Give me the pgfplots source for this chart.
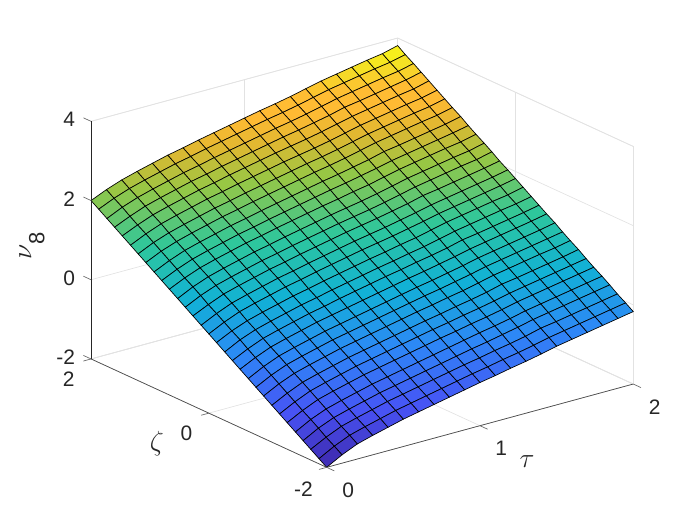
\documentclass[border=0pt]{standalone}
\usepackage{pgfplots}
\pgfplotsset{compat=1.18}
\usepackage{fontspec}
\setmainfont{Liberation Sans}
\definecolor{axdark}{RGB}{38,38,38}
\definecolor{gridl}{RGB}{226,226,226}
\begin{document}
\begin{tikzpicture}[x=1pt,y=1pt]
\path[use as bounding box] (0,0) rectangle (525,393.75);
\begin{axis}[
  at={(156.64pt,143.29pt)}, anchor=origin,
  x={(114.975pt,31.24pt)}, y={(-44.175pt,20.325pt)}, z={(0pt,29.7pt)},
  xmin=0,xmax=2,ymin=-2,ymax=2,zmin=-2,zmax=4,
  xtick={0,1,2}, ytick={-2,0,2}, ztick={-2,0,2,4},
  grid=major, major grid style={draw=gridl,line width=.5pt},
  axis line style={draw=gridl,line width=.5pt},
  tick style={draw=none}, major tick length=6pt, tick align=outside,
  ticklabel style={font=\fontsize{15.7}{16}\selectfont,text=axdark},
  xticklabel style={xshift=4.5pt,yshift=-5pt},
  yticklabel style={xshift=-3.75pt,yshift=-4.5pt},
  zticklabel style={xshift=-3pt,yshift=-2pt},
  /pgf/number format/assume math mode=true,
  clip=false,
  colormap={parula}{
    rgb(0pt)=(0.2422,0.1504,0.6603)
    rgb(143pt)=(0.2810,0.3228,0.9579)
    rgb(286pt)=(0.1786,0.5289,0.9682)
    rgb(429pt)=(0.0689,0.6948,0.8394)
    rgb(571pt)=(0.1800,0.7800,0.6100)
    rgb(714pt)=(0.5900,0.7800,0.2700)
    rgb(800pt)=(0.8800,0.7200,0.1900)
    rgb(860pt)=(1.0000,0.7300,0.2000)
    rgb(905pt)=(1.0000,0.7400,0.2000)
    rgb(950pt)=(0.9600,0.8700,0.1500)
    rgb(1000pt)=(0.9769,0.9839,0.0805)
  },
  xlabel={$\tau$}, ylabel={$\zeta$}, zlabel={\fontsize{20.74}{22}\selectfont$\nu$\raisebox{-9.75pt}{\fontsize{16.5}{17}\selectfont 8}},
  every axis x label/.style={at={(axis cs:0.896,-3.069,-2)},anchor=center,yshift=-2pt,font=\fontsize{20.74}{22}\selectfont,text=axdark},
  every axis y label/.style={at={(axis cs:-0.488,-0.388,-2)},anchor=center,font=\fontsize{20.74}{22}\selectfont,text=axdark},
  every axis z label/.style={at={(axis cs:-0.385,2,1.26)},anchor=center,rotate=90,text=axdark},
]
\addplot3[surf, shader=faceted, faceted color=black, line width=.5pt, mesh/ordering=y varies, mesh/rows=31] coordinates {
(0,-2,-2)(0,-1.87,-1.87)(0,-1.73,-1.73)(0,-1.6,-1.6)(0,-1.47,-1.47)(0,-1.33,-1.33)(0,-1.2,-1.2)(0,-1.07,-1.07)(0,-.93,-.93)(0,-.8,-.8)(0,-.67,-.67)(0,-.53,-.53)(0,-.4,-.4)(0,-.27,-.27)(0,-.13,-.13)(0,0,0)(0,.13,.13)(0,.27,.27)(0,.4,.4)(0,.53,.53)(0,.67,.67)(0,.8,.8)(0,.93,.93)(0,1.07,1.07)(0,1.2,1.2)(0,1.33,1.33)(0,1.47,1.47)(0,1.6,1.6)(0,1.73,1.73)(0,1.87,1.87)(0,2,2)

(.1,-2,-1.79)(.1,-1.87,-1.66)(.1,-1.73,-1.53)(.1,-1.6,-1.39)(.1,-1.47,-1.26)(.1,-1.33,-1.13)(.1,-1.2,-1)(.1,-1.07,-.87)(.1,-.93,-.73)(.1,-.8,-.6)(.1,-.67,-.47)(.1,-.53,-.34)(.1,-.4,-.21)(.1,-.27,-.07)(.1,-.13,.06)(.1,0,.19)(.1,.13,.32)(.1,.27,.45)(.1,.4,.59)(.1,.53,.72)(.1,.67,.85)(.1,.8,.98)(.1,.93,1.11)(.1,1.07,1.25)(.1,1.2,1.38)(.1,1.33,1.51)(.1,1.47,1.64)(.1,1.6,1.77)(.1,1.73,1.91)(.1,1.87,2.04)(.1,2,2.17)

(.2,-2,-1.62)(.2,-1.87,-1.49)(.2,-1.73,-1.36)(.2,-1.6,-1.23)(.2,-1.47,-1.1)(.2,-1.33,-.96)(.2,-1.2,-.83)(.2,-1.07,-.7)(.2,-.93,-.57)(.2,-.8,-.44)(.2,-.67,-.31)(.2,-.53,-.18)(.2,-.4,-.05)(.2,-.27,.08)(.2,-.13,.21)(.2,0,.35)(.2,.13,.48)(.2,.27,.61)(.2,.4,.74)(.2,.53,.87)(.2,.67,1)(.2,.8,1.13)(.2,.93,1.26)(.2,1.07,1.39)(.2,1.2,1.52)(.2,1.33,1.66)(.2,1.47,1.79)(.2,1.6,1.92)(.2,1.73,2.05)(.2,1.87,2.18)(.2,2,2.31)

(.3,-2,-1.51)(.3,-1.87,-1.38)(.3,-1.73,-1.25)(.3,-1.6,-1.12)(.3,-1.47,-.99)(.3,-1.33,-.85)(.3,-1.2,-.72)(.3,-1.07,-.59)(.3,-.93,-.46)(.3,-.8,-.33)(.3,-.67,-.2)(.3,-.53,-.07)(.3,-.4,.06)(.3,-.27,.19)(.3,-.13,.32)(.3,0,.46)(.3,.13,.59)(.3,.27,.72)(.3,.4,.85)(.3,.53,.98)(.3,.67,1.11)(.3,.8,1.24)(.3,.93,1.37)(.3,1.07,1.5)(.3,1.2,1.63)(.3,1.33,1.77)(.3,1.47,1.9)(.3,1.6,2.03)(.3,1.73,2.16)(.3,1.87,2.29)(.3,2,2.42)

(.4,-2,-1.41)(.4,-1.87,-1.28)(.4,-1.73,-1.15)(.4,-1.6,-1.02)(.4,-1.47,-.89)(.4,-1.33,-.75)(.4,-1.2,-.62)(.4,-1.07,-.49)(.4,-.93,-.36)(.4,-.8,-.23)(.4,-.67,-.1)(.4,-.53,.03)(.4,-.4,.16)(.4,-.27,.29)(.4,-.13,.42)(.4,0,.56)(.4,.13,.69)(.4,.27,.82)(.4,.4,.95)(.4,.53,1.08)(.4,.67,1.21)(.4,.8,1.34)(.4,.93,1.47)(.4,1.07,1.6)(.4,1.2,1.73)(.4,1.33,1.87)(.4,1.47,2)(.4,1.6,2.13)(.4,1.73,2.26)(.4,1.87,2.39)(.4,2,2.52)

(.5,-2,-1.31)(.5,-1.87,-1.18)(.5,-1.73,-1.05)(.5,-1.6,-.92)(.5,-1.47,-.79)(.5,-1.33,-.65)(.5,-1.2,-.52)(.5,-1.07,-.39)(.5,-.93,-.26)(.5,-.8,-.13)(.5,-.67,0)(.5,-.53,.13)(.5,-.4,.26)(.5,-.27,.39)(.5,-.13,.52)(.5,0,.66)(.5,.13,.79)(.5,.27,.92)(.5,.4,1.05)(.5,.53,1.18)(.5,.67,1.31)(.5,.8,1.44)(.5,.93,1.57)(.5,1.07,1.7)(.5,1.2,1.83)(.5,1.33,1.97)(.5,1.47,2.1)(.5,1.6,2.23)(.5,1.73,2.36)(.5,1.87,2.49)(.5,2,2.62)

(.6,-2,-1.23)(.6,-1.87,-1.1)(.6,-1.73,-.97)(.6,-1.6,-.84)(.6,-1.47,-.71)(.6,-1.33,-.57)(.6,-1.2,-.44)(.6,-1.07,-.31)(.6,-.93,-.18)(.6,-.8,-.05)(.6,-.67,.08)(.6,-.53,.21)(.6,-.4,.34)(.6,-.27,.47)(.6,-.13,.6)(.6,0,.74)(.6,.13,.87)(.6,.27,1)(.6,.4,1.13)(.6,.53,1.26)(.6,.67,1.39)(.6,.8,1.52)(.6,.93,1.65)(.6,1.07,1.78)(.6,1.2,1.91)(.6,1.33,2.05)(.6,1.47,2.18)(.6,1.6,2.31)(.6,1.73,2.44)(.6,1.87,2.57)(.6,2,2.7)

(.7,-2,-1.15)(.7,-1.87,-1.02)(.7,-1.73,-.89)(.7,-1.6,-.76)(.7,-1.47,-.63)(.7,-1.33,-.49)(.7,-1.2,-.36)(.7,-1.07,-.23)(.7,-.93,-.1)(.7,-.8,.03)(.7,-.67,.16)(.7,-.53,.29)(.7,-.4,.43)(.7,-.27,.56)(.7,-.13,.69)(.7,0,.83)(.7,.13,.96)(.7,.27,1.09)(.7,.4,1.22)(.7,.53,1.35)(.7,.67,1.48)(.7,.8,1.61)(.7,.93,1.74)(.7,1.07,1.87)(.7,1.2,2)(.7,1.33,2.14)(.7,1.47,2.27)(.7,1.6,2.4)(.7,1.73,2.53)(.7,1.87,2.66)(.7,2,2.79)

(.8,-2,-1.07)(.8,-1.87,-.94)(.8,-1.73,-.81)(.8,-1.6,-.68)(.8,-1.47,-.55)(.8,-1.33,-.41)(.8,-1.2,-.28)(.8,-1.07,-.15)(.8,-.93,-.02)(.8,-.8,.11)(.8,-.67,.24)(.8,-.53,.37)(.8,-.4,.51)(.8,-.27,.64)(.8,-.13,.77)(.8,0,.91)(.8,.13,1.04)(.8,.27,1.17)(.8,.4,1.3)(.8,.53,1.43)(.8,.67,1.56)(.8,.8,1.69)(.8,.93,1.82)(.8,1.07,1.95)(.8,1.2,2.08)(.8,1.33,2.22)(.8,1.47,2.35)(.8,1.6,2.48)(.8,1.73,2.61)(.8,1.87,2.74)(.8,2,2.87)

(.9,-2,-.99)(.9,-1.87,-.86)(.9,-1.73,-.73)(.9,-1.6,-.6)(.9,-1.47,-.47)(.9,-1.33,-.33)(.9,-1.2,-.2)(.9,-1.07,-.07)(.9,-.93,.06)(.9,-.8,.19)(.9,-.67,.32)(.9,-.53,.45)(.9,-.4,.59)(.9,-.27,.72)(.9,-.13,.85)(.9,0,.99)(.9,.13,1.12)(.9,.27,1.25)(.9,.4,1.38)(.9,.53,1.51)(.9,.67,1.64)(.9,.8,1.77)(.9,.93,1.9)(.9,1.07,2.03)(.9,1.2,2.16)(.9,1.33,2.3)(.9,1.47,2.43)(.9,1.6,2.56)(.9,1.73,2.69)(.9,1.87,2.82)(.9,2,2.95)

(1,-2,-.91)(1,-1.87,-.78)(1,-1.73,-.65)(1,-1.6,-.52)(1,-1.47,-.39)(1,-1.33,-.25)(1,-1.2,-.12)(1,-1.07,.01)(1,-.93,.14)(1,-.8,.27)(1,-.67,.4)(1,-.53,.53)(1,-.4,.67)(1,-.27,.8)(1,-.13,.93)(1,0,1.07)(1,.13,1.2)(1,.27,1.33)(1,.4,1.46)(1,.53,1.59)(1,.67,1.72)(1,.8,1.85)(1,.93,1.98)(1,1.07,2.11)(1,1.2,2.24)(1,1.33,2.38)(1,1.47,2.51)(1,1.6,2.64)(1,1.73,2.77)(1,1.87,2.9)(1,2,3.03)

(1.1,-2,-.84)(1.1,-1.87,-.71)(1.1,-1.73,-.58)(1.1,-1.6,-.44)(1.1,-1.47,-.31)(1.1,-1.33,-.18)(1.1,-1.2,-.05)(1.1,-1.07,.08)(1.1,-.93,.21)(1.1,-.8,.35)(1.1,-.67,.48)(1.1,-.53,.61)(1.1,-.4,.74)(1.1,-.27,.87)(1.1,-.13,1)(1.1,0,1.14)(1.1,.13,1.27)(1.1,.27,1.4)(1.1,.4,1.53)(1.1,.53,1.66)(1.1,.67,1.79)(1.1,.8,1.93)(1.1,.93,2.06)(1.1,1.07,2.19)(1.1,1.2,2.32)(1.1,1.33,2.45)(1.1,1.47,2.58)(1.1,1.6,2.72)(1.1,1.73,2.85)(1.1,1.87,2.98)(1.1,2,3.11)

(1.2,-2,-.76)(1.2,-1.87,-.63)(1.2,-1.73,-.5)(1.2,-1.6,-.37)(1.2,-1.47,-.23)(1.2,-1.33,-.1)(1.2,-1.2,.03)(1.2,-1.07,.16)(1.2,-.93,.29)(1.2,-.8,.42)(1.2,-.67,.55)(1.2,-.53,.68)(1.2,-.4,.82)(1.2,-.27,.95)(1.2,-.13,1.08)(1.2,0,1.21)(1.2,.13,1.34)(1.2,.27,1.47)(1.2,.4,1.6)(1.2,.53,1.73)(1.2,.67,1.87)(1.2,.8,2)(1.2,.93,2.13)(1.2,1.07,2.26)(1.2,1.2,2.39)(1.2,1.33,2.52)(1.2,1.47,2.65)(1.2,1.6,2.79)(1.2,1.73,2.92)(1.2,1.87,3.05)(1.2,2,3.18)

(1.3,-2,-.69)(1.3,-1.87,-.56)(1.3,-1.73,-.43)(1.3,-1.6,-.29)(1.3,-1.47,-.16)(1.3,-1.33,-.03)(1.3,-1.2,.1)(1.3,-1.07,.23)(1.3,-.93,.36)(1.3,-.8,.5)(1.3,-.67,.63)(1.3,-.53,.76)(1.3,-.4,.89)(1.3,-.27,1.02)(1.3,-.13,1.15)(1.3,0,1.29)(1.3,.13,1.42)(1.3,.27,1.55)(1.3,.4,1.68)(1.3,.53,1.81)(1.3,.67,1.94)(1.3,.8,2.08)(1.3,.93,2.21)(1.3,1.07,2.34)(1.3,1.2,2.47)(1.3,1.33,2.6)(1.3,1.47,2.73)(1.3,1.6,2.87)(1.3,1.73,3)(1.3,1.87,3.13)(1.3,2,3.26)

(1.4,-2,-.61)(1.4,-1.87,-.48)(1.4,-1.73,-.35)(1.4,-1.6,-.21)(1.4,-1.47,-.08)(1.4,-1.33,.05)(1.4,-1.2,.18)(1.4,-1.07,.31)(1.4,-.93,.45)(1.4,-.8,.58)(1.4,-.67,.71)(1.4,-.53,.84)(1.4,-.4,.97)(1.4,-.27,1.11)(1.4,-.13,1.24)(1.4,0,1.37)(1.4,.13,1.5)(1.4,.27,1.63)(1.4,.4,1.77)(1.4,.53,1.9)(1.4,.67,2.03)(1.4,.8,2.16)(1.4,.93,2.29)(1.4,1.07,2.43)(1.4,1.2,2.56)(1.4,1.33,2.69)(1.4,1.47,2.82)(1.4,1.6,2.95)(1.4,1.73,3.09)(1.4,1.87,3.22)(1.4,2,3.35)

(1.5,-2,-.52)(1.5,-1.87,-.39)(1.5,-1.73,-.25)(1.5,-1.6,-.12)(1.5,-1.47,.01)(1.5,-1.33,.14)(1.5,-1.2,.27)(1.5,-1.07,.41)(1.5,-.93,.54)(1.5,-.8,.67)(1.5,-.67,.8)(1.5,-.53,.93)(1.5,-.4,1.07)(1.5,-.27,1.2)(1.5,-.13,1.33)(1.5,0,1.46)(1.5,.13,1.59)(1.5,.27,1.73)(1.5,.4,1.86)(1.5,.53,1.99)(1.5,.67,2.12)(1.5,.8,2.25)(1.5,.93,2.39)(1.5,1.07,2.52)(1.5,1.2,2.65)(1.5,1.33,2.78)(1.5,1.47,2.91)(1.5,1.6,3.05)(1.5,1.73,3.18)(1.5,1.87,3.31)(1.5,2,3.44)

(1.6,-2,-.45)(1.6,-1.87,-.32)(1.6,-1.73,-.19)(1.6,-1.6,-.05)(1.6,-1.47,.08)(1.6,-1.33,.21)(1.6,-1.2,.34)(1.6,-1.07,.47)(1.6,-.93,.61)(1.6,-.8,.74)(1.6,-.67,.87)(1.6,-.53,1)(1.6,-.4,1.13)(1.6,-.27,1.27)(1.6,-.13,1.4)(1.6,0,1.53)(1.6,.13,1.66)(1.6,.27,1.79)(1.6,.4,1.93)(1.6,.53,2.06)(1.6,.67,2.19)(1.6,.8,2.32)(1.6,.93,2.45)(1.6,1.07,2.59)(1.6,1.2,2.72)(1.6,1.33,2.85)(1.6,1.47,2.98)(1.6,1.6,3.11)(1.6,1.73,3.25)(1.6,1.87,3.38)(1.6,2,3.51)

(1.7,-2,-.38)(1.7,-1.87,-.25)(1.7,-1.73,-.12)(1.7,-1.6,.02)(1.7,-1.47,.15)(1.7,-1.33,.28)(1.7,-1.2,.41)(1.7,-1.07,.54)(1.7,-.93,.68)(1.7,-.8,.81)(1.7,-.67,.94)(1.7,-.53,1.07)(1.7,-.4,1.2)(1.7,-.27,1.34)(1.7,-.13,1.47)(1.7,0,1.6)(1.7,.13,1.73)(1.7,.27,1.86)(1.7,.4,2)(1.7,.53,2.13)(1.7,.67,2.26)(1.7,.8,2.39)(1.7,.93,2.52)(1.7,1.07,2.66)(1.7,1.2,2.79)(1.7,1.33,2.92)(1.7,1.47,3.05)(1.7,1.6,3.18)(1.7,1.73,3.32)(1.7,1.87,3.45)(1.7,2,3.58)

(1.8,-2,-.31)(1.8,-1.87,-.18)(1.8,-1.73,-.05)(1.8,-1.6,.09)(1.8,-1.47,.22)(1.8,-1.33,.35)(1.8,-1.2,.48)(1.8,-1.07,.61)(1.8,-.93,.75)(1.8,-.8,.88)(1.8,-.67,1.01)(1.8,-.53,1.14)(1.8,-.4,1.27)(1.8,-.27,1.41)(1.8,-.13,1.54)(1.8,0,1.67)(1.8,.13,1.8)(1.8,.27,1.93)(1.8,.4,2.07)(1.8,.53,2.2)(1.8,.67,2.33)(1.8,.8,2.46)(1.8,.93,2.59)(1.8,1.07,2.73)(1.8,1.2,2.86)(1.8,1.33,2.99)(1.8,1.47,3.12)(1.8,1.6,3.25)(1.8,1.73,3.39)(1.8,1.87,3.52)(1.8,2,3.65)

(1.9,-2,-.24)(1.9,-1.87,-.11)(1.9,-1.73,.02)(1.9,-1.6,.16)(1.9,-1.47,.29)(1.9,-1.33,.42)(1.9,-1.2,.55)(1.9,-1.07,.68)(1.9,-.93,.81)(1.9,-.8,.95)(1.9,-.67,1.08)(1.9,-.53,1.21)(1.9,-.4,1.34)(1.9,-.27,1.47)(1.9,-.13,1.6)(1.9,0,1.74)(1.9,.13,1.87)(1.9,.27,2)(1.9,.4,2.13)(1.9,.53,2.26)(1.9,.67,2.39)(1.9,.8,2.53)(1.9,.93,2.66)(1.9,1.07,2.79)(1.9,1.2,2.92)(1.9,1.33,3.05)(1.9,1.47,3.18)(1.9,1.6,3.32)(1.9,1.73,3.45)(1.9,1.87,3.58)(1.9,2,3.71)

(2,-2,-.17)(2,-1.87,-.04)(2,-1.73,.09)(2,-1.6,.23)(2,-1.47,.36)(2,-1.33,.49)(2,-1.2,.62)(2,-1.07,.76)(2,-.93,.89)(2,-.8,1.02)(2,-.67,1.16)(2,-.53,1.29)(2,-.4,1.42)(2,-.27,1.55)(2,-.13,1.69)(2,0,1.82)(2,.13,1.95)(2,.27,2.08)(2,.4,2.22)(2,.53,2.35)(2,.67,2.48)(2,.8,2.61)(2,.93,2.75)(2,1.07,2.88)(2,1.2,3.01)(2,1.33,3.14)(2,1.47,3.28)(2,1.6,3.41)(2,1.73,3.54)(2,1.87,3.67)(2,2,3.81)
};
\draw[axdark,line width=.5pt] (axis cs:0,2,-2) -- (axis cs:0,2,4);
\draw[axdark!85,line width=.5pt] (axis cs:0,2,-2) -- (axis cs:0,-2,-2) -- (axis cs:2,-2,-2);
\draw[axdark!70,line width=.5pt] (axis cs:0,2,-2) -- (axis cs:0,2.13,-2);
\draw[axdark!70,line width=.5pt] (axis cs:0,2,0) -- (axis cs:0,2.13,0);
\draw[axdark!70,line width=.5pt] (axis cs:0,2,2) -- (axis cs:0,2.13,2);
\draw[axdark!70,line width=.5pt] (axis cs:0,2,4) -- (axis cs:0,2.13,4);
\draw[axdark!70,line width=.5pt] (axis cs:0,2,-2) -- (axis cs:-.05,2,-2);
\draw[axdark!70,line width=.5pt] (axis cs:0,0,-2) -- (axis cs:-.05,0,-2);
\draw[axdark!70,line width=.5pt] (axis cs:0,-2,-2) -- (axis cs:-.05,-2,-2);
\draw[axdark!70,line width=.5pt] (axis cs:0,-2,-2) -- (axis cs:0,-2.13,-2);
\draw[axdark!70,line width=.5pt] (axis cs:1,-2,-2) -- (axis cs:1,-2.13,-2);
\draw[axdark!70,line width=.5pt] (axis cs:2,-2,-2) -- (axis cs:2,-2.13,-2);
\end{axis}
\end{tikzpicture}
\end{document}
